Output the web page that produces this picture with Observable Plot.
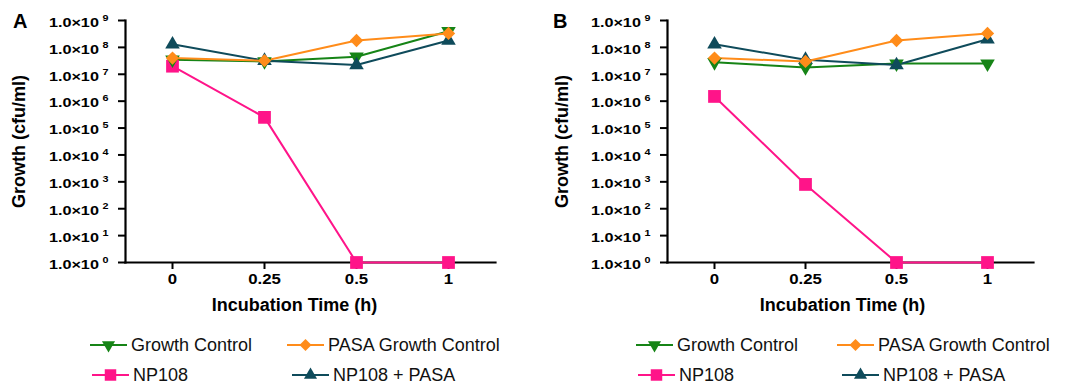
<!DOCTYPE html>
<html>
<head>
<meta charset="utf-8">
<script src="https://cdn.jsdelivr.net/npm/d3@7"></script>
<script src="https://cdn.jsdelivr.net/npm/@observablehq/plot@0.6"></script>
<style>
  html, body { margin: 0; padding: 0; background: #fff; }
  #root { position: relative; width: 1070px; height: 388px; overflow: hidden; font-family: "Liberation Sans", Arial, sans-serif; }
  .panel { position: absolute; top: 0; }
  .letter { position: absolute; font-weight: bold; font-size: 20px; color: #000; }
  .leg { position: absolute; height: 22px; display: flex; align-items: center; font-size: 18px; color: #111; white-space: nowrap; }
  .leg svg { display: block; margin-right: 4px; }
</style>
</head>
<body>
<div id="root"></div>
<script>
// ---- data ----
const times = ["0", "0.25", "0.5", "1"];
const seriesNames = ["Growth Control", "PASA Growth Control", "NP108", "NP108 + PASA"];
const seriesColors = ["#168416", "#ff8c1a", "#ff1489", "#0f4b5b"];
const panelLabels = ["A", "B"];
const yTicks = [1e0, 1e1, 1e2, 1e3, 1e4, 1e5, 1e6, 1e7, 1e8, 1e9];
const xLabel = "Incubation Time (h)";
const yLabel = "Growth (cfu/ml)";

// Panel A
const aGrowthControl = [3.5e7, 3.0e7, 4.5e7, 4.0e8];
const aPasaControl   = [4.0e7, 3.2e7, 1.8e8, 3.3e8];
const aNP108         = [2.0e7, 2.5e5, 1, 1];
const aNP108Pasa     = [1.3e8, 3.2e7, 2.2e7, 1.8e8];
// Panel B
const bGrowthControl = [2.8e7, 1.8e7, 2.5e7, 2.5e7];
const bPasaControl   = [4.0e7, 3.0e7, 1.8e8, 3.3e8];
const bNP108         = [1.5e6, 8.0e2, 1, 1];
const bNP108Pasa     = [1.3e8, 3.5e7, 2.2e7, 2.0e8];

// ---- symbols ----
const triangleDown = {
  draw(context, size) {
    const s3 = Math.sqrt(3);
    const y = -Math.sqrt(size / (s3 * 3));
    context.moveTo(0, -y * 2);
    context.lineTo(-s3 * y, y);
    context.lineTo(s3 * y, y);
    context.closePath();
  }
};
const symbols = [triangleDown, d3.symbolDiamond2, d3.symbolSquare, d3.symbolTriangle];
const radii = [5.4, 6.0, 7.2, 5.4];
const drawOrder = [2, 0, 3, 1];

function rows(values, name) {
  return times.map((t, i) => ({t, v: values[i], series: name}));
}

function makePanel(seriesValues, opts) {
  const marks = [];
  marks.push(Plot.axisY({
    ticks: yTicks,
    tickSize: 7,
    tickPadding: 10,
    strokeWidth: 2,
    tickFormat: d => "1.0×10|" + Math.round(Math.log10(d)),
    fontSize: 13.5,
    fontWeight: "bold",
    label: yLabel,
    labelAnchor: "center",
    labelArrow: false,
    labelOffset: opts.yLabelOffset
  }));
  marks.push(Plot.axisX({
    tickSize: 7,
    tickPadding: 5,
    strokeWidth: 2,
    fontSize: 14,
    fontWeight: "bold",
    label: null
  }));
  marks.push(Plot.frame({anchor: "left", strokeWidth: 2.2, stroke: "#000"}));
  marks.push(Plot.frame({anchor: "bottom", strokeWidth: 2.2, stroke: "#000"}));
  marks.push(Plot.text([xLabel], {
    frameAnchor: "bottom",
    dy: 48,
    dx: opts.xLabelDx,
    fontSize: 18,
    fontWeight: "bold",
    fill: "#000"
  }));
  for (const k of drawOrder) {
    const data = rows(seriesValues[k], seriesNames[k]);
    marks.push(Plot.line(data, {x: "t", y: "v", stroke: seriesColors[k], strokeWidth: 2}));
  }
  for (const k of drawOrder) {
    const data = rows(seriesValues[k], seriesNames[k]);
    marks.push(Plot.dot(data, {x: "t", y: "v", fill: seriesColors[k], stroke: "none", symbol: symbols[k], r: radii[k]}));
  }
  const svg = Plot.plot({
    width: opts.width,
    height: 322,
    marginLeft: opts.marginLeft,
    marginRight: opts.marginRight,
    marginTop: 20,
    marginBottom: 60,
    style: {fontFamily: '"Liberation Sans", Arial, sans-serif', color: "#000", background: "#fff", overflow: "visible"},
    x: {type: "point", domain: times, padding: 0.5},
    y: {type: "log", domain: [1, 1e9]},
    marks
  });
  // superscript exponents on y tick labels, widened like the original
  d3.select(svg).selectAll("g[aria-label='y-axis tick label'] text").each(function() {
    const txt = this.textContent;
    if (!txt.includes("|")) return;
    const [base, exp] = txt.split("|");
    this.textContent = base;
    const ts = document.createElementNS("http://www.w3.org/2000/svg", "tspan");
    ts.setAttribute("dx", "3");
    ts.setAttribute("dy", "-6");
    ts.setAttribute("font-size", "9");
    ts.textContent = exp;
    this.appendChild(ts);
    const tr = this.getAttribute("transform") || "";
    this.setAttribute("transform", tr + " translate(0,2) scale(1.2,1)");
  });
  d3.select(svg).selectAll("g[aria-label='x-axis tick label'] text").each(function() {
    const tr = this.getAttribute("transform") || "";
    this.setAttribute("transform", tr + " scale(1.2,1)");
  });
  d3.select(svg).selectAll("g[aria-label='y-axis label'] text").attr("font-size", 18);
  d3.select(svg).select("g[aria-label='y-axis label']").attr("font-size", 18);
  return svg;
}

const root = document.getElementById("root");
const panels = [
  {left: 0, width: 535, marginLeft: 125, marginRight: 40, yLabelOffset: 113, xLabelDx: -16,
   values: [aGrowthControl, aPasaControl, aNP108, aNP108Pasa],
   letter: {x: 13, y: 10},
   legend: [{x: 90, y: 345}, {x: 287, y: 345}, {x: 92, y: 375}, {x: 292, y: 375}]},
  {left: 540, width: 530, marginLeft: 127, marginRight: 37, yLabelOffset: 112, xLabelDx: -8,
   values: [bGrowthControl, bPasaControl, bNP108, bNP108Pasa],
   letter: {x: 13, y: 10},
   legend: [{x: 96, y: 345}, {x: 297, y: 345}, {x: 98, y: 375}, {x: 302, y: 375}]}
];

panels.forEach((p, pi) => {
  const div = document.createElement("div");
  div.className = "panel";
  div.style.left = p.left + "px";
  div.style.width = p.width + "px";
  div.style.height = "388px";
  div.appendChild(makePanel(p.values, p));
  const letter = document.createElement("div");
  letter.className = "letter";
  letter.style.left = p.letter.x + "px";
  letter.style.top = p.letter.y + "px";
  letter.textContent = panelLabels[pi];
  div.appendChild(letter);
  p.legend.forEach((pos, k) => {
    const item = document.createElement("div");
    item.className = "leg";
    item.style.left = pos.x + "px";
    item.style.top = (pos.y - 11) + "px";
    const sw = d3.create("svg").attr("width", 37).attr("height", 22);
    sw.append("line").attr("x1", 0).attr("x2", 37).attr("y1", 11).attr("y2", 11)
      .attr("stroke", seriesColors[k]).attr("stroke-width", 2);
    const r = radii[k] * 0.9;
    sw.append("path").attr("transform", "translate(18.5,11)")
      .attr("d", d3.symbol(symbols[k], Math.PI * r * r)())
      .attr("fill", seriesColors[k]);
    item.appendChild(sw.node());
    const span = document.createElement("span");
    span.textContent = seriesNames[k];
    item.appendChild(span);
    div.appendChild(item);
  });
  root.appendChild(div);
});
</script>
</body>
</html>
